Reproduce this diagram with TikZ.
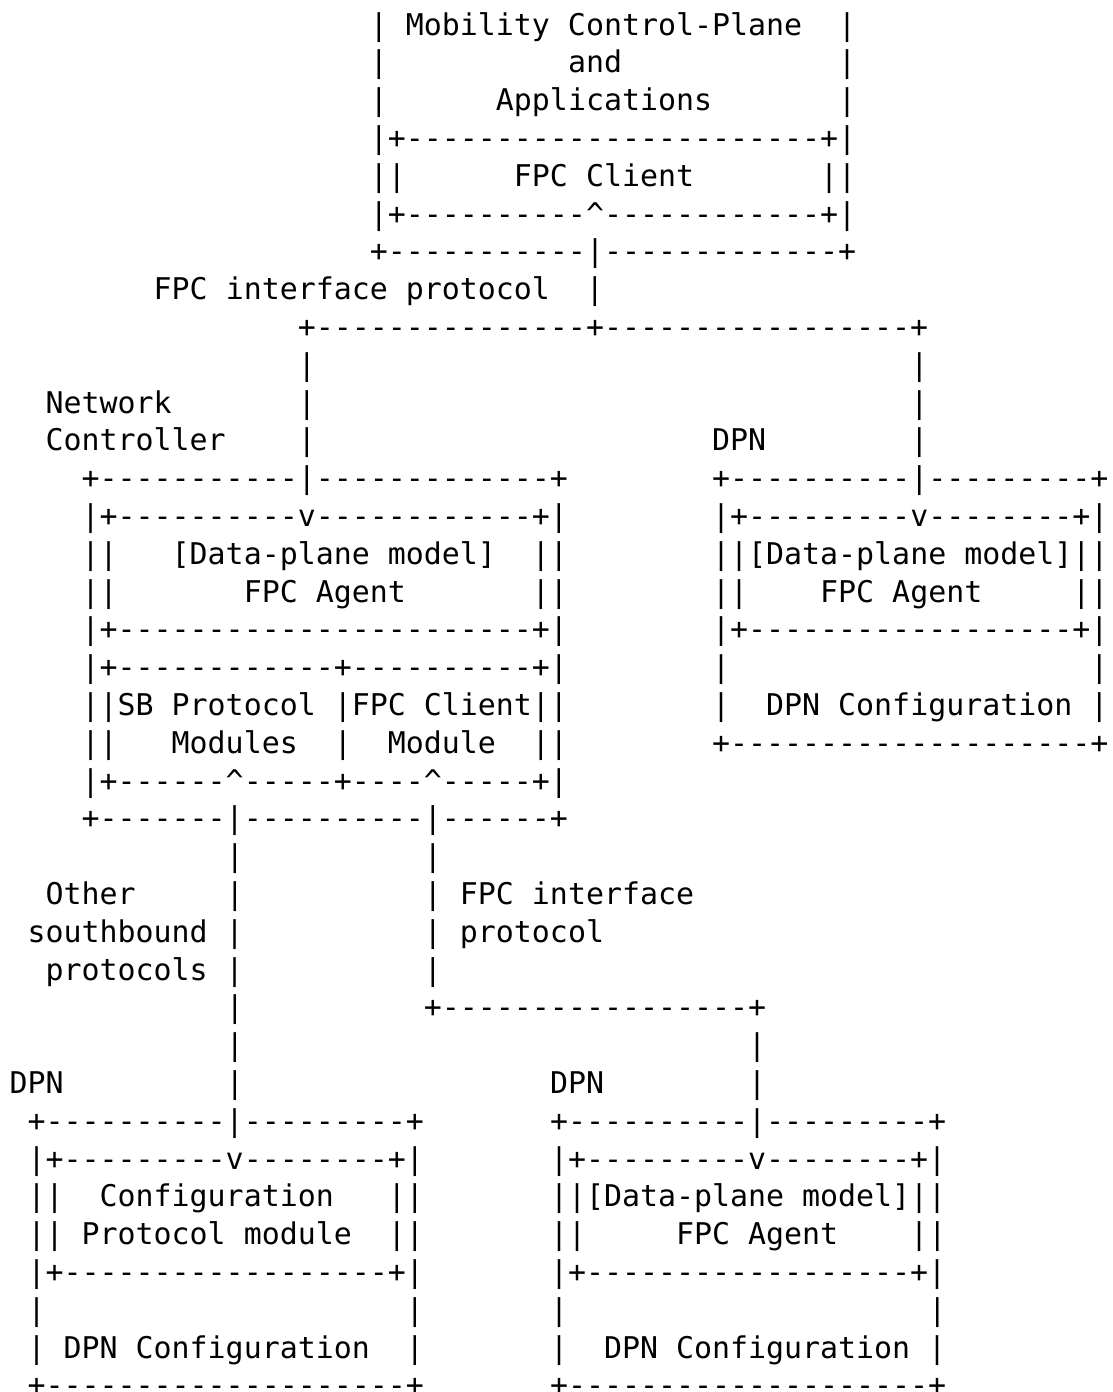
\documentclass[tikz,border=0pt]{standalone}
\usepackage{fontspec}
\setmonofont{DejaVu Sans Mono}
\usetikzlibrary{positioning}

% one blank cell of the monospaced grid
\newcommand{\asciifont}{\ttfamily\fontsize{14.96pt}{18.9pt}\selectfont\def~{\leavevmode\hphantom{0}}}

\begin{document}
\begin{tikzpicture}[node distance=18.9pt]

% definitions
\tikzstyle{asciirow} = [rectangle, inner sep=0pt, text width=560pt, align=left, text height=11pt, text depth=3pt, font=\asciifont]

\useasboundingbox (0,0) rectangle (556.5pt,-696pt);

% the graph
\node (l1) [asciirow] at (284.8pt,-13.5pt) {~~~~~~~~~~~~~~~~~~~~|~Mobility~Control-Plane~~|};

\node (l2) [asciirow, below of=l1] {~~~~~~~~~~~~~~~~~~~~|~~~~~~~~~~and~~~~~~~~~~~~|};

\node (l3) [asciirow, below of=l2] {~~~~~~~~~~~~~~~~~~~~|~~~~~~Applications~~~~~~~|};

\node (l4) [asciirow, below of=l3] {~~~~~~~~~~~~~~~~~~~~|+-----------------------+|};

\node (l5) [asciirow, below of=l4] {~~~~~~~~~~~~~~~~~~~~||~~~~~~FPC~Client~~~~~~~||};

\node (l6) [asciirow, below of=l5] {~~~~~~~~~~~~~~~~~~~~|+----------\textasciicircum{}------------+|};

\node (l7) [asciirow, below of=l6] {~~~~~~~~~~~~~~~~~~~~+-----------|-------------+};

\node (l8) [asciirow, below of=l7] {~~~~~~~~FPC~interface~protocol~~|};

\node (l9) [asciirow, below of=l8] {~~~~~~~~~~~~~~~~+---------------+-----------------+};

\node (l10) [asciirow, below of=l9] {~~~~~~~~~~~~~~~~|~~~~~~~~~~~~~~~~~~~~~~~~~~~~~~~~~|};

\node (l11) [asciirow, below of=l10] {~~Network~~~~~~~|~~~~~~~~~~~~~~~~~~~~~~~~~~~~~~~~~|};

\node (l12) [asciirow, below of=l11] {~~Controller~~~~|~~~~~~~~~~~~~~~~~~~~~~DPN~~~~~~~~|};

\node (l13) [asciirow, below of=l12] {~~~~+-----------|-------------+~~~~~~~~+----------|---------+};

\node (l14) [asciirow, below of=l13] {~~~~|+----------v------------+|~~~~~~~~|+---------v--------+|};

\node (l15) [asciirow, below of=l14] {~~~~||~~~[Data-plane~model]~~||~~~~~~~~||[Data-plane~model]||};

\node (l16) [asciirow, below of=l15] {~~~~||~~~~~~~FPC~Agent~~~~~~~||~~~~~~~~||~~~~FPC~Agent~~~~~||};

\node (l17) [asciirow, below of=l16] {~~~~|+-----------------------+|~~~~~~~~|+------------------+|};

\node (l18) [asciirow, below of=l17] {~~~~|+------------+----------+|~~~~~~~~|~~~~~~~~~~~~~~~~~~~~|};

\node (l19) [asciirow, below of=l18] {~~~~||SB~Protocol~|FPC~Client||~~~~~~~~|~~DPN~Configuration~|};

\node (l20) [asciirow, below of=l19] {~~~~||~~~Modules~~|~~Module~~||~~~~~~~~+--------------------+};

\node (l21) [asciirow, below of=l20] {~~~~|+------\textasciicircum{}-----+----\textasciicircum{}-----+|};

\node (l22) [asciirow, below of=l21] {~~~~+-------|----------|------+};

\node (l23) [asciirow, below of=l22] {~~~~~~~~~~~~|~~~~~~~~~~|};

\node (l24) [asciirow, below of=l23] {~~Other~~~~~|~~~~~~~~~~|~FPC~interface};

\node (l25) [asciirow, below of=l24] {~southbound~|~~~~~~~~~~|~protocol};

\node (l26) [asciirow, below of=l25] {~~protocols~|~~~~~~~~~~|};

\node (l27) [asciirow, below of=l26] {~~~~~~~~~~~~|~~~~~~~~~~+-----------------+};

\node (l28) [asciirow, below of=l27] {~~~~~~~~~~~~|~~~~~~~~~~~~~~~~~~~~~~~~~~~~|};

\node (l29) [asciirow, below of=l28] {DPN~~~~~~~~~|~~~~~~~~~~~~~~~~~DPN~~~~~~~~|};

\node (l30) [asciirow, below of=l29] {~+----------|---------+~~~~~~~+----------|---------+};

\node (l31) [asciirow, below of=l30] {~|+---------v--------+|~~~~~~~|+---------v--------+|};

\node (l32) [asciirow, below of=l31] {~||~~Configuration~~~||~~~~~~~||[Data-plane~model]||};

\node (l33) [asciirow, below of=l32] {~||~Protocol~module~~||~~~~~~~||~~~~~FPC~Agent~~~~||};

\node (l34) [asciirow, below of=l33] {~|+------------------+|~~~~~~~|+------------------+|};

\node (l35) [asciirow, below of=l34] {~|~~~~~~~~~~~~~~~~~~~~|~~~~~~~|~~~~~~~~~~~~~~~~~~~~|};

\node (l36) [asciirow, below of=l35] {~|~DPN~Configuration~~|~~~~~~~|~~DPN~Configuration~|};

\node (l37) [asciirow, below of=l36] {~+--------------------+~~~~~~~+--------------------+};

\end{tikzpicture}
\end{document}
